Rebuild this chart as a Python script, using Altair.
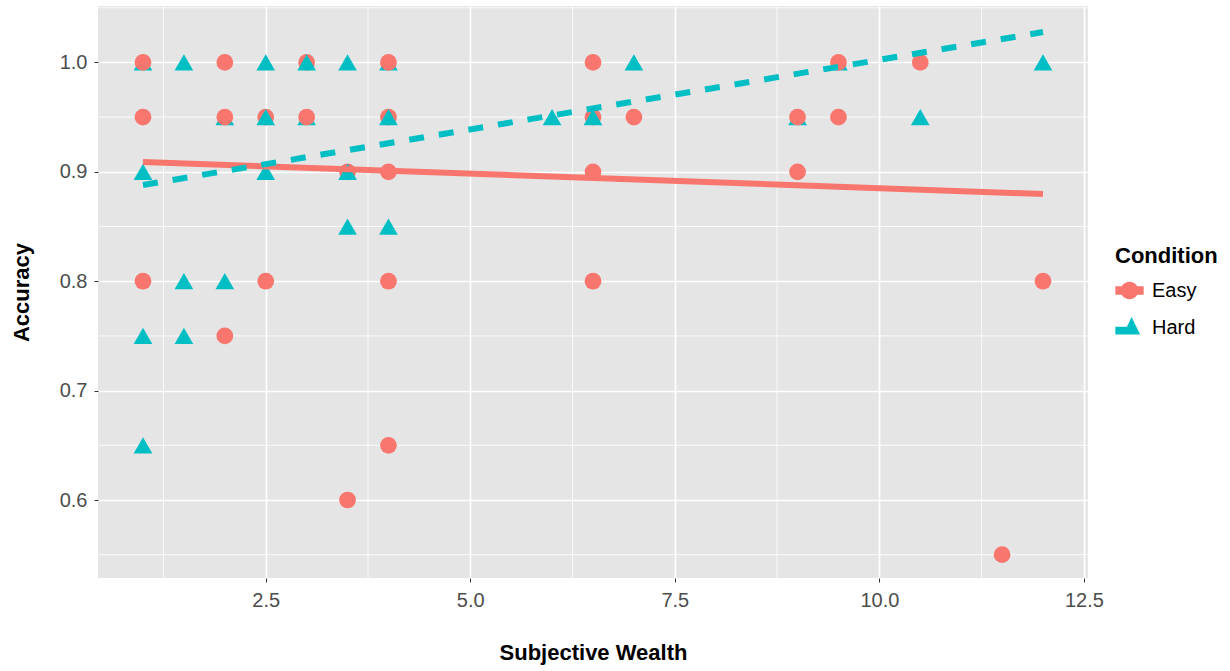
import altair as alt
import pandas as pd

# point data (draw order matters for overlaps)
pt_cond = ["Hard", "Easy", "Hard", "Easy", "Hard", "Easy", "Hard", "Hard", "Hard", "Easy",
           "Easy", "Hard", "Hard", "Easy", "Easy", "Hard",
           "Easy", "Hard", "Easy", "Easy", "Hard", "Hard", "Easy", "Easy", "Hard", "Hard",
           "Easy", "Hard", "Easy", "Hard", "Easy", "Easy", "Hard",
           "Hard", "Hard", "Easy", "Hard", "Easy", "Easy", "Easy",
           "Hard", "Hard",
           "Easy", "Hard", "Hard", "Easy", "Easy", "Easy", "Easy",
           "Hard", "Hard", "Easy",
           "Hard", "Easy", "Easy", "Easy"]
pt_x = [1, 1, 1.5, 2, 2.5, 3, 3, 3.5, 4, 4,
        6.5, 7, 9.5, 9.5, 10.5, 12,
        1, 2, 2, 2.5, 2.5, 3, 3, 4, 4, 6,
        6.5, 6.5, 7, 9, 9, 9.5, 10.5,
        1, 2.5, 3.5, 3.5, 4, 6.5, 9,
        3.5, 4,
        1, 1.5, 2, 2.5, 4, 6.5, 12,
        1, 1.5, 2,
        1, 4, 3.5, 11.5]
pt_y = [1.0, 1.0, 1.0, 1.0, 1.0, 1.0, 1.0, 1.0, 1.0, 1.0,
        1.0, 1.0, 1.0, 1.0, 1.0, 1.0,
        0.95, 0.95, 0.95, 0.95, 0.95, 0.95, 0.95, 0.95, 0.95, 0.95,
        0.95, 0.95, 0.95, 0.95, 0.95, 0.95, 0.95,
        0.9, 0.9, 0.9, 0.9, 0.9, 0.9, 0.9,
        0.85, 0.85,
        0.8, 0.8, 0.8, 0.8, 0.8, 0.8, 0.8,
        0.75, 0.75, 0.75,
        0.65, 0.65, 0.6, 0.55]

# fitted lines (endpoints)
fit_cond = ["Easy", "Easy", "Hard", "Hard"]
fit_x = [1, 12, 1, 12]
fit_y = [0.909, 0.8797, 0.888, 1.0278]

x_ticks = [2.5, 5.0, 7.5, 10.0, 12.5]
y_ticks = [0.6, 0.7, 0.8, 0.9, 1.0]
x_minor = [1.25, 3.75, 6.25, 8.75, 11.25]
y_minor = [0.55, 0.65, 0.75, 0.85, 0.95, 1.05]

conds = ["Easy", "Hard"]
colors = ["#F8766D", "#00BFC4"]

# legend key glyphs (symbol + line piece), in the unit box [-1, 1]
key_easy = ("M-1,-0.3H1V0.3H-1Z "
            "M0.62,0A0.62,0.62 0 1,1 -0.62,0A0.62,0.62 0 1,1 0.62,0Z")
key_hard = ("M-1,-0.05H-0.2V0.5H-1Z "
            "M0.15,-0.75L0.75,0.5L-0.45,0.5Z")

pts = pd.DataFrame({"x": pt_x, "y": pt_y, "Condition": pt_cond})
fits = pd.DataFrame({"x": fit_x, "y": fit_y, "Condition": fit_cond})
xm = pd.DataFrame({"v": x_minor})
ym = pd.DataFrame({"v": y_minor})

xs = alt.Scale(domain=[0.45, 12.55], nice=False, zero=False)
ys = alt.Scale(domain=[0.5287, 1.0516], nice=False, zero=False)

font = "Liberation Sans"

xaxis = alt.Axis(values=x_ticks, format=".1f", title="Subjective Wealth",
                 grid=True, gridColor="white", gridWidth=1.6, domain=False,
                 tickColor="#333333", tickSize=4, tickWidth=1,
                 labelFont=font, labelFontSize=20, labelColor="#4D4D4D", labelPadding=8,
                 titleFont=font, titleFontSize=22, titleFontWeight="bold",
                 titleColor="black", titlePadding=32)
yaxis = alt.Axis(values=y_ticks, format=".1f", title="Accuracy",
                 grid=True, gridColor="white", gridWidth=1.6, domain=False,
                 tickColor="#333333", tickSize=4, tickWidth=1,
                 labelFont=font, labelFontSize=20, labelColor="#4D4D4D", labelPadding=7,
                 titleFont=font, titleFontSize=22, titleFontWeight="bold",
                 titleColor="black", titlePadding=26)

minor_x = alt.Chart(xm).mark_rule(color="white", strokeWidth=0.8).encode(
    x=alt.X("v:Q", scale=xs, axis=xaxis))
minor_y = alt.Chart(ym).mark_rule(color="white", strokeWidth=0.8).encode(
    y=alt.Y("v:Q", scale=ys, axis=yaxis))

points = alt.Chart(pts).mark_point(filled=True, opacity=1, strokeWidth=0).encode(
    x=alt.X("x:Q", scale=xs, axis=xaxis),
    y=alt.Y("y:Q", scale=ys, axis=yaxis),
    color=alt.Color("Condition:N", scale=alt.Scale(domain=conds, range=colors), legend=None),
    shape=alt.Shape("Condition:N", scale=alt.Scale(domain=conds, range=["circle", "triangle-up"]), legend=None),
    size=alt.Size("Condition:N", scale=alt.Scale(domain=conds, range=[280, 350]), legend=None))

easy_line = alt.Chart(fits).transform_filter(alt.datum.Condition == "Easy").mark_line(
    color="#F8766D", strokeWidth=6).encode(
    x=alt.X("x:Q", scale=xs, axis=xaxis), y=alt.Y("y:Q", scale=ys, axis=yaxis))
hard_line = alt.Chart(fits).transform_filter(alt.datum.Condition == "Hard").mark_line(
    color="#00BFC4", strokeWidth=6, strokeDash=[15, 15]).encode(
    x=alt.X("x:Q", scale=xs, axis=xaxis), y=alt.Y("y:Q", scale=ys, axis=yaxis))

legend = alt.Legend(orient="none", legendX=1017, legendY=240,
                    title="Condition", titleFont=font, titleFontSize=22,
                    titleFontWeight="bold", titleColor="black", titlePadding=8,
                    labelFont=font, labelFontSize=20, labelColor="black",
                    rowPadding=12, symbolStrokeWidth=0, symbolSize=800,
                    labelOffset=8)

legend_layer = alt.Chart(fits).transform_filter("false").mark_point(
    filled=True, opacity=1, strokeWidth=0).encode(
    x=alt.X("x:Q", scale=xs, axis=xaxis),
    y=alt.Y("y:Q", scale=ys, axis=yaxis),
    color=alt.Color("Condition:N", scale=alt.Scale(domain=conds, range=colors), legend=legend),
    shape=alt.Shape("Condition:N", scale=alt.Scale(domain=conds, range=[key_easy, key_hard]), legend=legend))

chart = alt.layer(minor_x, minor_y, points, easy_line, hard_line, legend_layer).resolve_scale(
    shape="independent", size="independent", color="independent"
).properties(
    width=990, height=572,
    background="white",
    autosize=alt.AutoSizeParams(type="none"),
    padding={"left": 98, "top": 6, "right": 142, "bottom": 93},
).configure_view(fill="#E5E5E5", stroke=None)

chart.save("out.html", embed_options={"renderer": "svg", "actions": False})
